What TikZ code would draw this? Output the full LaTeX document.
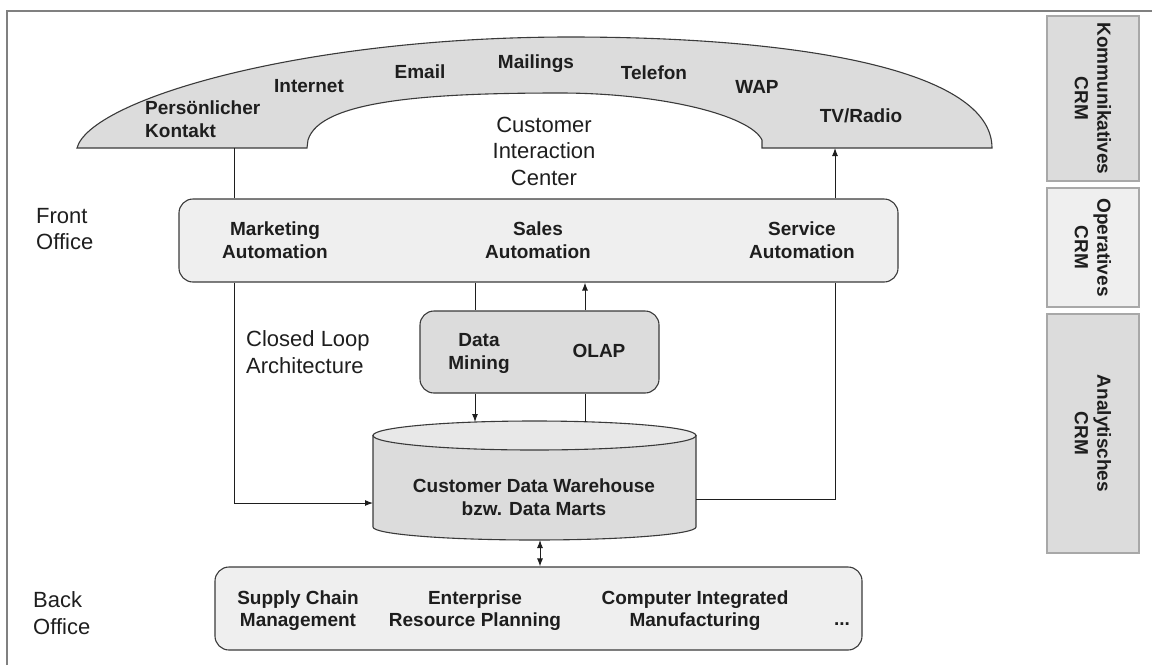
\documentclass[tikz,border=0pt]{standalone}
\usepackage{fontspec}
\setmainfont{Liberation Sans}
\usetikzlibrary{arrows.meta}
\definecolor{panel}{HTML}{DCDCDC}
\definecolor{light}{HTML}{EFEFEF}
\definecolor{lidgray}{HTML}{E8E8E8}
\definecolor{ink}{HTML}{1E1E1E}
\definecolor{rim}{HTML}{3A3A3A}
\definecolor{framegray}{HTML}{808080}
\definecolor{tabrim}{HTML}{A8A8A8}

\begin{document}
\begin{tikzpicture}[x=1pt,y=-1pt,
  every node/.style={text=ink, inner sep=0pt},
  lbl/.style={font=\bfseries\fontsize{19}{22.5}\selectfont, align=center},
  plain/.style={font=\fontsize{22}{26.5}\selectfont, align=left},
  roundbox/.style={draw=rim, line width=1.1pt, rounded corners=14pt},
  wire/.style={draw=ink, line width=1pt},
  tip/.style={-{Latex[length=8pt,width=6pt]}},
  twotip/.style={{Latex[length=8pt,width=6pt]}-{Latex[length=8pt,width=6pt]}},
  tab/.style={draw=tabrim, line width=1.2pt},
]
\useasboundingbox (0,0) rectangle (1152,665);

% outer frame (top and left rules only)
\draw[framegray, line width=2pt] (7,665) -- (7,11) -- (1152,11);

% communication channel arch
\filldraw[fill=panel, draw=rim, line width=1.1pt]
  (77,148) .. controls (90,100) and (300,37) .. (570,37)
  .. controls (800,37) and (992,70) .. (992,148)
  -- (762,148) -- (762,140)
  .. controls (750,115) and (660,93) .. (560,93)
  .. controls (430,93) and (320,100) .. (308,140)
  -- (307,148) -- cycle;
\coordinate (kontaktfoot) at (234,148);
\coordinate (radiofoot) at (835,148);

\node[lbl, anchor=base west] (pers) at (145,114) {Persönlicher};
\node[lbl, anchor=base west] (kont) at (145,137) {Kontakt};
\node[lbl, anchor=base] (inet) at (309,92) {Internet};
\node[lbl, anchor=base] (mail) at (420,78) {Email};
\node[lbl, anchor=base] (mlng) at (536,68) {Mailings};
\node[lbl, anchor=base] (tel) at (654,79) {Telefon};
\node[lbl, anchor=base] (wap) at (757,93) {WAP};
\node[lbl, anchor=base] (tv) at (861,122) {TV/Radio};
\node[plain, align=center] (cic) at (544,151) {Customer\\Interaction\\Center};

% front office
\node[plain] (fronttxt) at (36,229) [anchor=west] {Front\\Office};
\node[roundbox, fill=light, minimum width=719pt, minimum height=83pt] (front) at (538.5,240.5) {};
\node[lbl] (mkt) at (275,240) {Marketing\\Automation};
\node[lbl] (sales) at (538,240) {Sales\\Automation};
\node[lbl] (serv) at (802,240) {Service\\Automation};

% analytics
\node[plain] (loop) at (246,352) [anchor=west] {Closed Loop\\Architecture};
\node[roundbox, fill=panel, minimum width=239pt, minimum height=82pt] (dm) at (539.5,352) {};
\node[lbl] (mining) at (479,353.5) {Data\\Mining};
\node[lbl] (olap) at (599,351) {OLAP};

% data warehouse cylinder
\filldraw[fill=panel, draw=rim, line width=1.1pt]
  (373,435.5) -- (373,527)
  arc[start angle=180, end angle=0, x radius=161.5, y radius=13]
  -- (696,435.5) -- cycle;
\filldraw[fill=lidgray, draw=rim, line width=1.1pt]
  (534.5,435.5) ellipse[x radius=161.5, y radius=14.5];
\node[lbl] (dwh) at (534,497) {Customer Data Warehouse\\bzw. Data Marts};
\coordinate (cylW) at (373,503);
\coordinate (cylE) at (696,499);
\coordinate (lidA) at (475,422);
\coordinate (lidB) at (585,422);
\coordinate (cylS) at (540,540);
\coordinate (minecol) at (475,300);
\coordinate (olapcol) at (585,300);

% back office
\node[plain] (backtxt) at (33,613) [anchor=west] {Back\\Office};
\node[roundbox, fill=light, minimum width=647pt, minimum height=83pt] (back) at (538.5,608.5) {};
\node[lbl] (scm) at (298,610.5) {Supply Chain\\Management};
\node[lbl] (erp) at (475,610.5) {Enterprise\\Resource Planning};
\node[lbl] (cim) at (695,610.5) {Computer Integrated\\Manufacturing};
\node[lbl, anchor=base] (more) at (842,625) {...};

% connectors
\draw[wire] (kontaktfoot) -- (kontaktfoot |- front.north);
\draw[wire, tip] (front.north -| radiofoot) -- (radiofoot);
\draw[wire, tip] (front.south -| kontaktfoot) |- (cylW);
\draw[wire] (cylE) -| (front.south -| radiofoot);
\draw[wire] (front.south -| minecol) -- (dm.north -| minecol);
\draw[wire, tip] (dm.north -| olapcol) -- (front.south -| olapcol);
\draw[wire, tip] (dm.south -| minecol) -- (lidA);
\draw[wire] (lidB) -- (dm.south -| olapcol);
\draw[wire, twotip] (cylS) -- (cylS |- back.north);

% CRM layer tabs
\node[tab, fill=panel, minimum width=92pt, minimum height=165pt] (tabK) at (1093,98.5) {};
\node[lbl, rotate=-90] (tabKtxt) at (tabK.center) {Kommunikatives\\CRM};
\node[tab, fill=light, minimum width=92pt, minimum height=119pt] (tabO) at (1093,247.5) {};
\node[lbl, rotate=-90] (tabOtxt) at (tabO.center) {Operatives\\CRM};
\node[tab, fill=panel, minimum width=92pt, minimum height=239pt] (tabA) at (1093,433.5) {};
\node[lbl, rotate=-90] (tabAtxt) at (tabA.center) {Analytisches\\CRM};
\end{tikzpicture}
\end{document}
